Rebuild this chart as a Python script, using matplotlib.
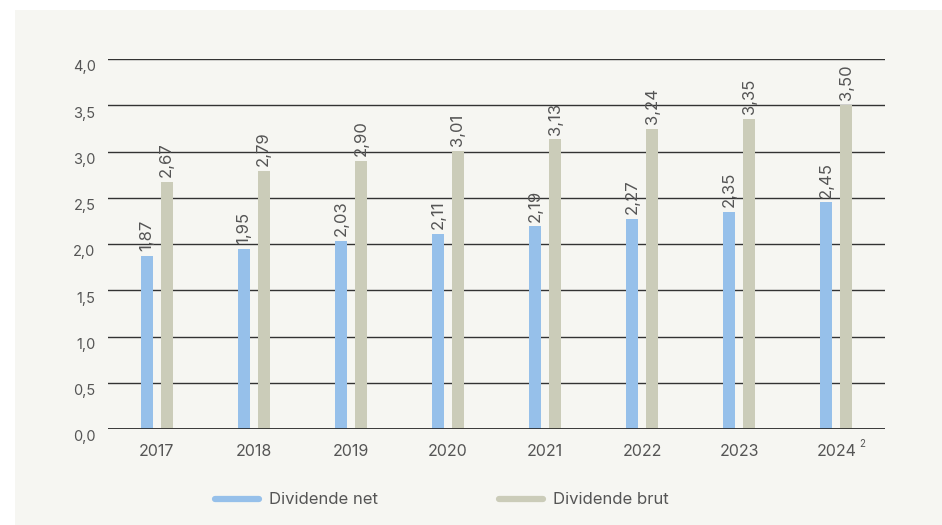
import matplotlib
matplotlib.use('Agg')
import matplotlib.pyplot as plt
import matplotlib.transforms as mtransforms
from matplotlib.patches import Rectangle
import numpy as np

years = ['2017', '2018', '2019', '2020', '2021', '2022', '2023', '2024']
dividende_net = [1.87, 1.95, 2.03, 2.11, 2.19, 2.27, 2.35, 2.45]
dividende_brut = [2.67, 2.79, 2.90, 3.01, 3.13, 3.24, 3.35, 3.50]
y_ticks = [0.0, 0.5, 1.0, 1.5, 2.0, 2.5, 3.0, 3.5, 4.0]

plt.rcParams['font.family'] = ['Inter', 'DejaVu Sans']

blue = '#96c0ea'
beige = '#cbccb9'
txt = '#555555'

fig = plt.figure(figsize=(9.42, 5.25), dpi=100)
fig.patch.set_facecolor('white')
fig.patches.append(Rectangle((15 / 942, 0), 1, 1 - 10 / 525, transform=fig.transFigure,
                             facecolor='#f6f6f2', edgecolor='none', zorder=-10))

ax = fig.add_axes([108 / 942, 1 - 429 / 525, 777 / 942, 370 / 525])
ax.set_facecolor('none')

x = np.arange(len(years))
w = 0.124
off = 0.103
ax.bar(x - off, dividende_net, width=w, color=blue, zorder=3, label='Dividende net')
ax.bar(x + off, dividende_brut, width=w, color=beige, zorder=3, label='Dividende brut')

for xi, v in zip(x, dividende_net):
    ax.annotate(f'{v:.2f}'.replace('.', ','), (xi - off, v), xytext=(0, 3.5), textcoords='offset points',
                rotation=90, ha='center', va='bottom', fontsize=12, color=txt)
for xi, v in zip(x, dividende_brut):
    ax.annotate(f'{v:.2f}'.replace('.', ','), (xi + off, v), xytext=(0, 3.5), textcoords='offset points',
                rotation=90, ha='center', va='bottom', fontsize=12, color=txt)

ax.set_xlim(-0.5, len(years) - 0.5)
ax.set_ylim(0, 4.0)
ax.set_yticks(y_ticks)
ax.set_yticklabels([])
# y labels sit a bit below their gridline in the original, so draw them by hand
ytrans = mtransforms.blended_transform_factory(ax.transAxes, ax.transData)
for t in y_ticks:
    ax.annotate(f'{t:.1f}'.replace('.', ','), (0, t), xycoords=ytrans,
                xytext=(-9, -6), textcoords='offset points',
                ha='right', va='center', fontsize=10.5, color=txt)
ax.set_xticks(x)
ax.set_xticklabels(years, fontsize=11.5, color=txt)
ax.tick_params(axis='both', length=0)
ax.tick_params(axis='x', pad=11)
for s in ax.spines.values():
    s.set_visible(False)
ax.grid(axis='y', color='#333333', linewidth=1, zorder=0)
ax.axhline(0, color='#222222', linewidth=1.2, zorder=4)

trans = mtransforms.blended_transform_factory(ax.transData, ax.transAxes)
ax.text(len(years) - 1 + 0.235, -0.04, '2', transform=trans, fontsize=7, color=txt,
        ha='left', va='center')

h1 = plt.Line2D([], [], color=blue, linewidth=4.5, solid_capstyle='round')
h2 = plt.Line2D([], [], color=beige, linewidth=4.5, solid_capstyle='round')
fig.legend([h1, h2], ['Dividende net', 'Dividende brut'], loc='center',
           bbox_to_anchor=(442 / 942, 1 - 500 / 525), ncol=2, frameon=False,
           fontsize=12, labelcolor=txt, handlelength=2.6, handletextpad=0.6,
           columnspacing=7.3)

fig.savefig('out.png', dpi=100)
